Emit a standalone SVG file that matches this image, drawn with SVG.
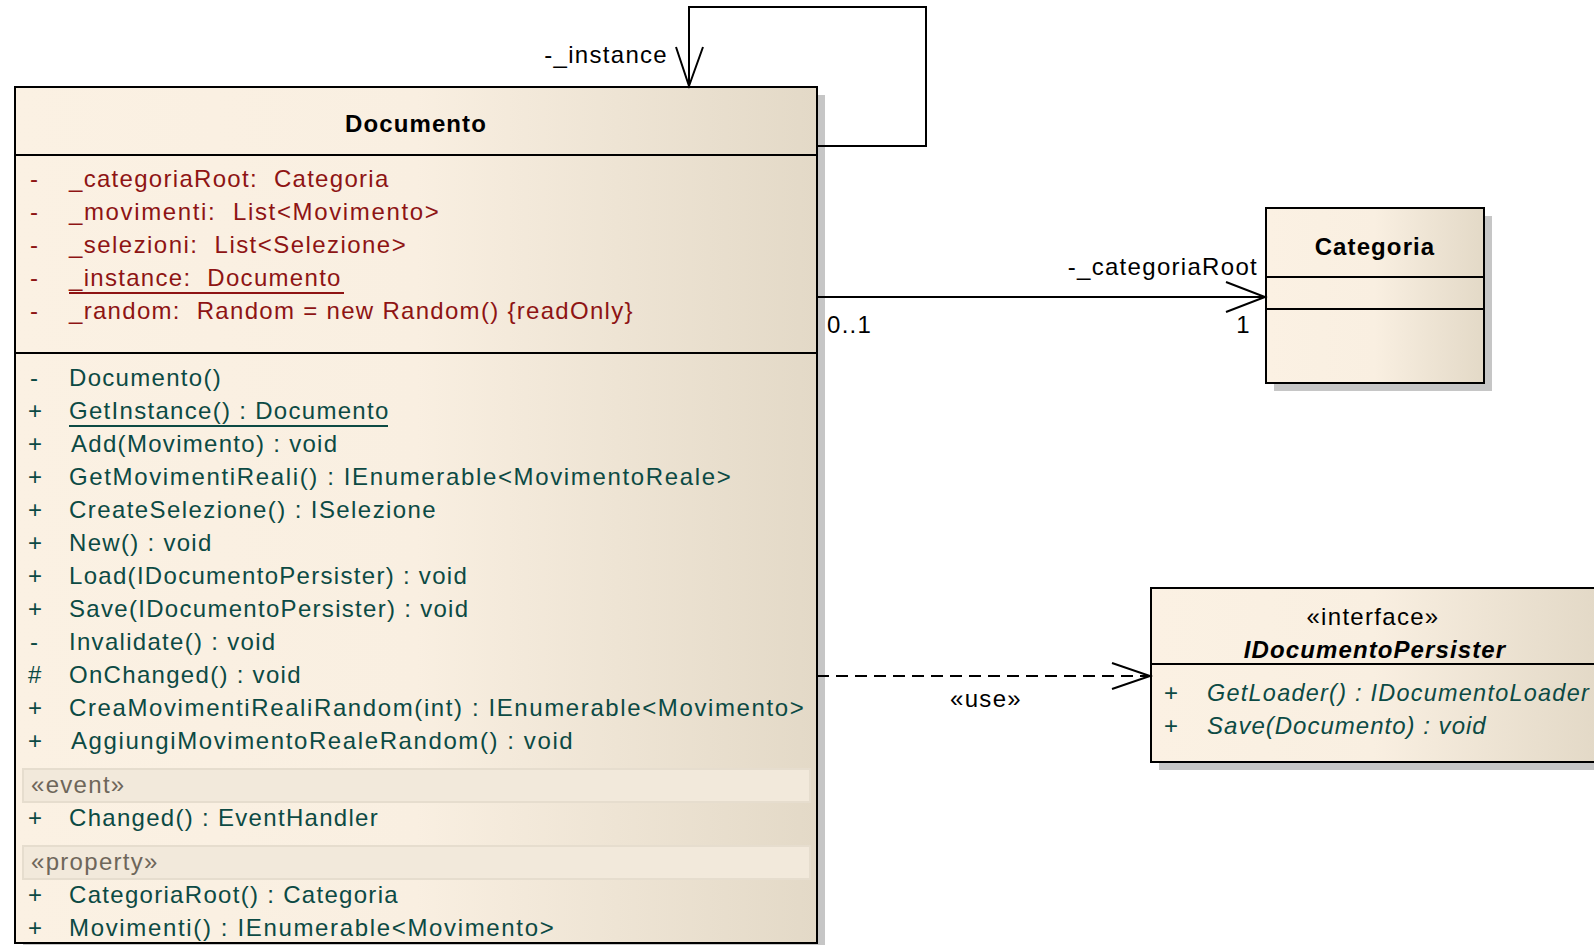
<svg xmlns="http://www.w3.org/2000/svg" width="1594" height="945" viewBox="0 0 1594 945">
  <defs>
    <linearGradient id="classFill" x1="0" y1="0" x2="1" y2="0">
      <stop offset="0" stop-color="#FBF1E3"/>
      <stop offset="0.5" stop-color="#F9EFE1"/>
      <stop offset="1" stop-color="#E3D9C7"/>
    </linearGradient>
    <style>
      text { font-family: "Liberation Sans", Arial, sans-serif; font-size: 24px; letter-spacing: 1.3px; white-space: pre; }
      .box { fill: url(#classFill); stroke: #000; stroke-width: 2; }
      .shadow { fill: #C6C6C6; }
      .sep { stroke: #000; stroke-width: 2; }
      .title { font-weight: bold; text-anchor: middle; fill: #000; letter-spacing: 1.1px; }
      .attr { fill: #8E1414; }
      .op { fill: #0C4A44; }
      .stereo { fill: #6E665A; }
      .band { fill: #F2E9DB; stroke: #E6DDCE; stroke-width: 2; }
      .lbl { fill: #000; }
      .edge { fill: none; stroke: #000; stroke-width: 2; }
      .dash { stroke-dasharray: 12 7; }
      .ul-attr { stroke: #8E1414; stroke-width: 2; }
      .ul-op { stroke: #0C4A44; stroke-width: 2; }
    </style>
  </defs>

  <rect width="1594" height="945" fill="#FFFFFF"/>

  <!-- Documento class -->
  <g id="Documento">
    <rect class="shadow" x="23" y="95" width="802" height="860"/>
    <rect class="box" x="15" y="87" width="802" height="856"/>
    <text class="title" x="416" y="132">Documento</text>
    <line class="sep" x1="15" y1="155" x2="817" y2="155"/>
    <g class="attr">
      <text x="30" y="187">-</text><text x="69" y="187">_categoriaRoot:  Categoria</text>
      <text x="30" y="220">-</text><text x="69" y="220" textLength="371" lengthAdjust="spacing">_movimenti:  List&lt;Movimento&gt;</text>
      <text x="30" y="253">-</text><text x="69" y="253" textLength="338" lengthAdjust="spacing">_selezioni:  List&lt;Selezione&gt;</text>
      <text x="30" y="286">-</text><text x="69" y="286">_instance:  Documento</text>
      <text x="30" y="319">-</text><text x="69" y="319">_random:  Random = new Random() {readOnly}</text>
    </g>
    <line class="ul-attr" x1="69" y1="293" x2="344" y2="293"/>
    <line class="sep" x1="15" y1="353" x2="817" y2="353"/>
    <g class="op">
      <text x="30" y="386">-</text><text x="69" y="386">Documento()</text>
      <text x="28" y="419">+</text><text x="69" y="419">GetInstance() : Documento</text>
      <text x="28" y="452">+</text><text x="71" y="452">Add(Movimento) : void</text>
      <text x="28" y="485">+</text><text x="69" y="485" textLength="663" lengthAdjust="spacing">GetMovimentiReali() : IEnumerable&lt;MovimentoReale&gt;</text>
      <text x="28" y="518">+</text><text x="69" y="518" textLength="368" lengthAdjust="spacing">CreateSelezione() : ISelezione</text>
      <text x="28" y="551">+</text><text x="69" y="551">New() : void</text>
      <text x="28" y="584">+</text><text x="69" y="584">Load(IDocumentoPersister) : void</text>
      <text x="28" y="617">+</text><text x="69" y="617">Save(IDocumentoPersister) : void</text>
      <text x="30" y="650">-</text><text x="69" y="650">Invalidate() : void</text>
      <text x="28" y="683">#</text><text x="69" y="683">OnChanged() : void</text>
      <text x="28" y="716">+</text><text x="69" y="716" textLength="736" lengthAdjust="spacing">CreaMovimentiRealiRandom(int) : IEnumerable&lt;Movimento&gt;</text>
      <text x="28" y="749">+</text><text x="71" y="749" textLength="503" lengthAdjust="spacing">AggiungiMovimentoRealeRandom() : void</text>
    </g>
    <line class="ul-op" x1="69" y1="426" x2="388" y2="426"/>
    <rect class="band" x="23" y="769" width="787" height="33"/>
    <text class="stereo" x="31" y="793">«event»</text>
    <g class="op">
      <text x="28" y="826">+</text><text x="69" y="826">Changed() : EventHandler</text>
    </g>
    <rect class="band" x="23" y="846" width="787" height="33"/>
    <text class="stereo" x="31" y="870">«property»</text>
    <g class="op">
      <text x="28" y="903">+</text><text x="69" y="903">CategoriaRoot() : Categoria</text>
      <text x="28" y="936">+</text><text x="69" y="936" textLength="486" lengthAdjust="spacing">Movimenti() : IEnumerable&lt;Movimento&gt;</text>
    </g>
  </g>

  <!-- Categoria class -->
  <g id="Categoria">
    <rect class="shadow" x="1274" y="216" width="218" height="175"/>
    <rect class="box" x="1266" y="208" width="218" height="175"/>
    <text class="title" x="1375" y="255">Categoria</text>
    <line class="sep" x1="1266" y1="277" x2="1484" y2="277"/>
    <line class="sep" x1="1266" y1="309" x2="1484" y2="309"/>
  </g>

  <!-- IDocumentoPersister interface -->
  <g id="IDocumentoPersister">
    <rect class="shadow" x="1159" y="596" width="446" height="174"/>
    <rect class="box" x="1151" y="588" width="446" height="174"/>
    <text x="1373" y="625" text-anchor="middle" fill="#000">«interface»</text>
    <text class="title" x="1375" y="658" font-style="italic">IDocumentoPersister</text>
    <line class="sep" x1="1151" y1="664" x2="1597" y2="664"/>
    <g class="op" font-style="italic">
      <text x="1164" y="701" font-style="normal">+</text><text x="1207" y="701" textLength="383" lengthAdjust="spacingAndGlyphs">GetLoader() : IDocumentoLoader</text>
      <text x="1164" y="734" font-style="normal">+</text><text x="1207" y="734" textLength="280" lengthAdjust="spacing">Save(Documento) : void</text>
    </g>
  </g>

  <!-- Connectors -->
  <g id="connectors">
    <!-- self association: _instance -->
    <polyline class="edge" points="817,146 926,146 926,7 689,7 689,86"/>
    <polyline class="edge" points="676,47 689,86 703,47"/>
    <text class="lbl" x="668" y="63" text-anchor="end">-_instance</text>

    <!-- association Documento -> Categoria -->
    <line class="edge" x1="817" y1="297" x2="1265" y2="297"/>
    <polyline class="edge" points="1226,282 1265,297 1226,312"/>
    <text class="lbl" x="1258" y="275" text-anchor="end">-_categoriaRoot</text>
    <text class="lbl" x="827" y="333">0..1</text>
    <text class="lbl" x="1251" y="333" text-anchor="end">1</text>

    <!-- dependency Documento -> IDocumentoPersister -->
    <line class="edge dash" x1="817" y1="676" x2="1150" y2="676"/>
    <polyline class="edge" points="1112,663 1150,676 1112,689"/>
    <text class="lbl" x="986" y="707" text-anchor="middle">«use»</text>
  </g>
</svg>
